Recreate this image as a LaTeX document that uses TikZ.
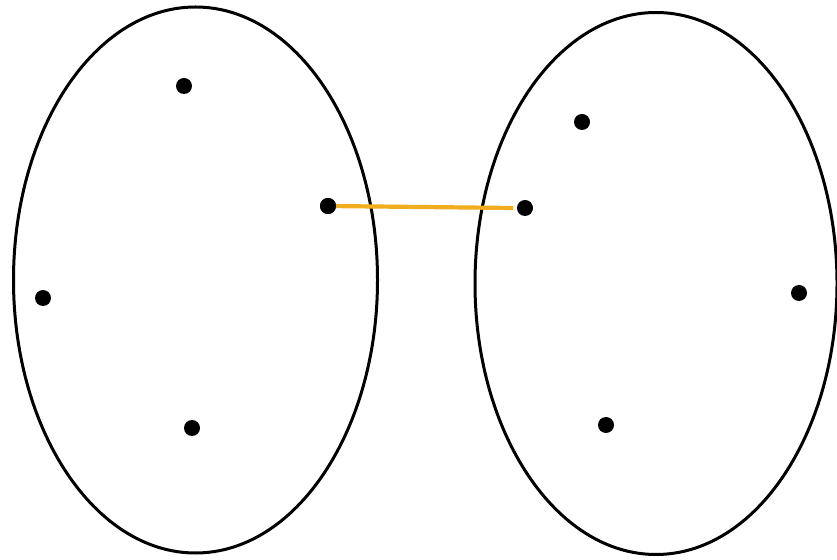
\documentclass[tikz,border=0pt]{standalone}
\usetikzlibrary{shapes.geometric}
\definecolor{linkorange}{HTML}{F0AE1E}
\begin{document}
\begin{tikzpicture}[x=1pt,y=1pt,
  blob/.style={draw=black,line width=3pt},
  vert/.style={circle,fill=black,inner sep=0pt,minimum size=16pt},
  link/.style={draw=linkorange,line width=4.2pt}]
\useasboundingbox (0,0) rectangle (837,559);
\draw[blob] (195.5,279) ellipse [x radius=182, y radius=273];
\draw[blob] (656,275.5) ellipse [x radius=181, y radius=271];
\node[vert] (a1) at (184,473) {};
\node[vert] (a2) at (328,353) {};
\node[vert] (a3) at (43,261) {};
\node[vert] (a4) at (192,131) {};
\node[vert] (b1) at (582,437) {};
\node[vert] (b2) at (525,351) {};
\node[vert] (b3) at (799,266) {};
\node[vert] (b4) at (606,134) {};
\coordinate (bend) at (513,351);
\draw[link] (a2.center) -- (bend);
\node[vert] at (a2) {};
\end{tikzpicture}
\end{document}
